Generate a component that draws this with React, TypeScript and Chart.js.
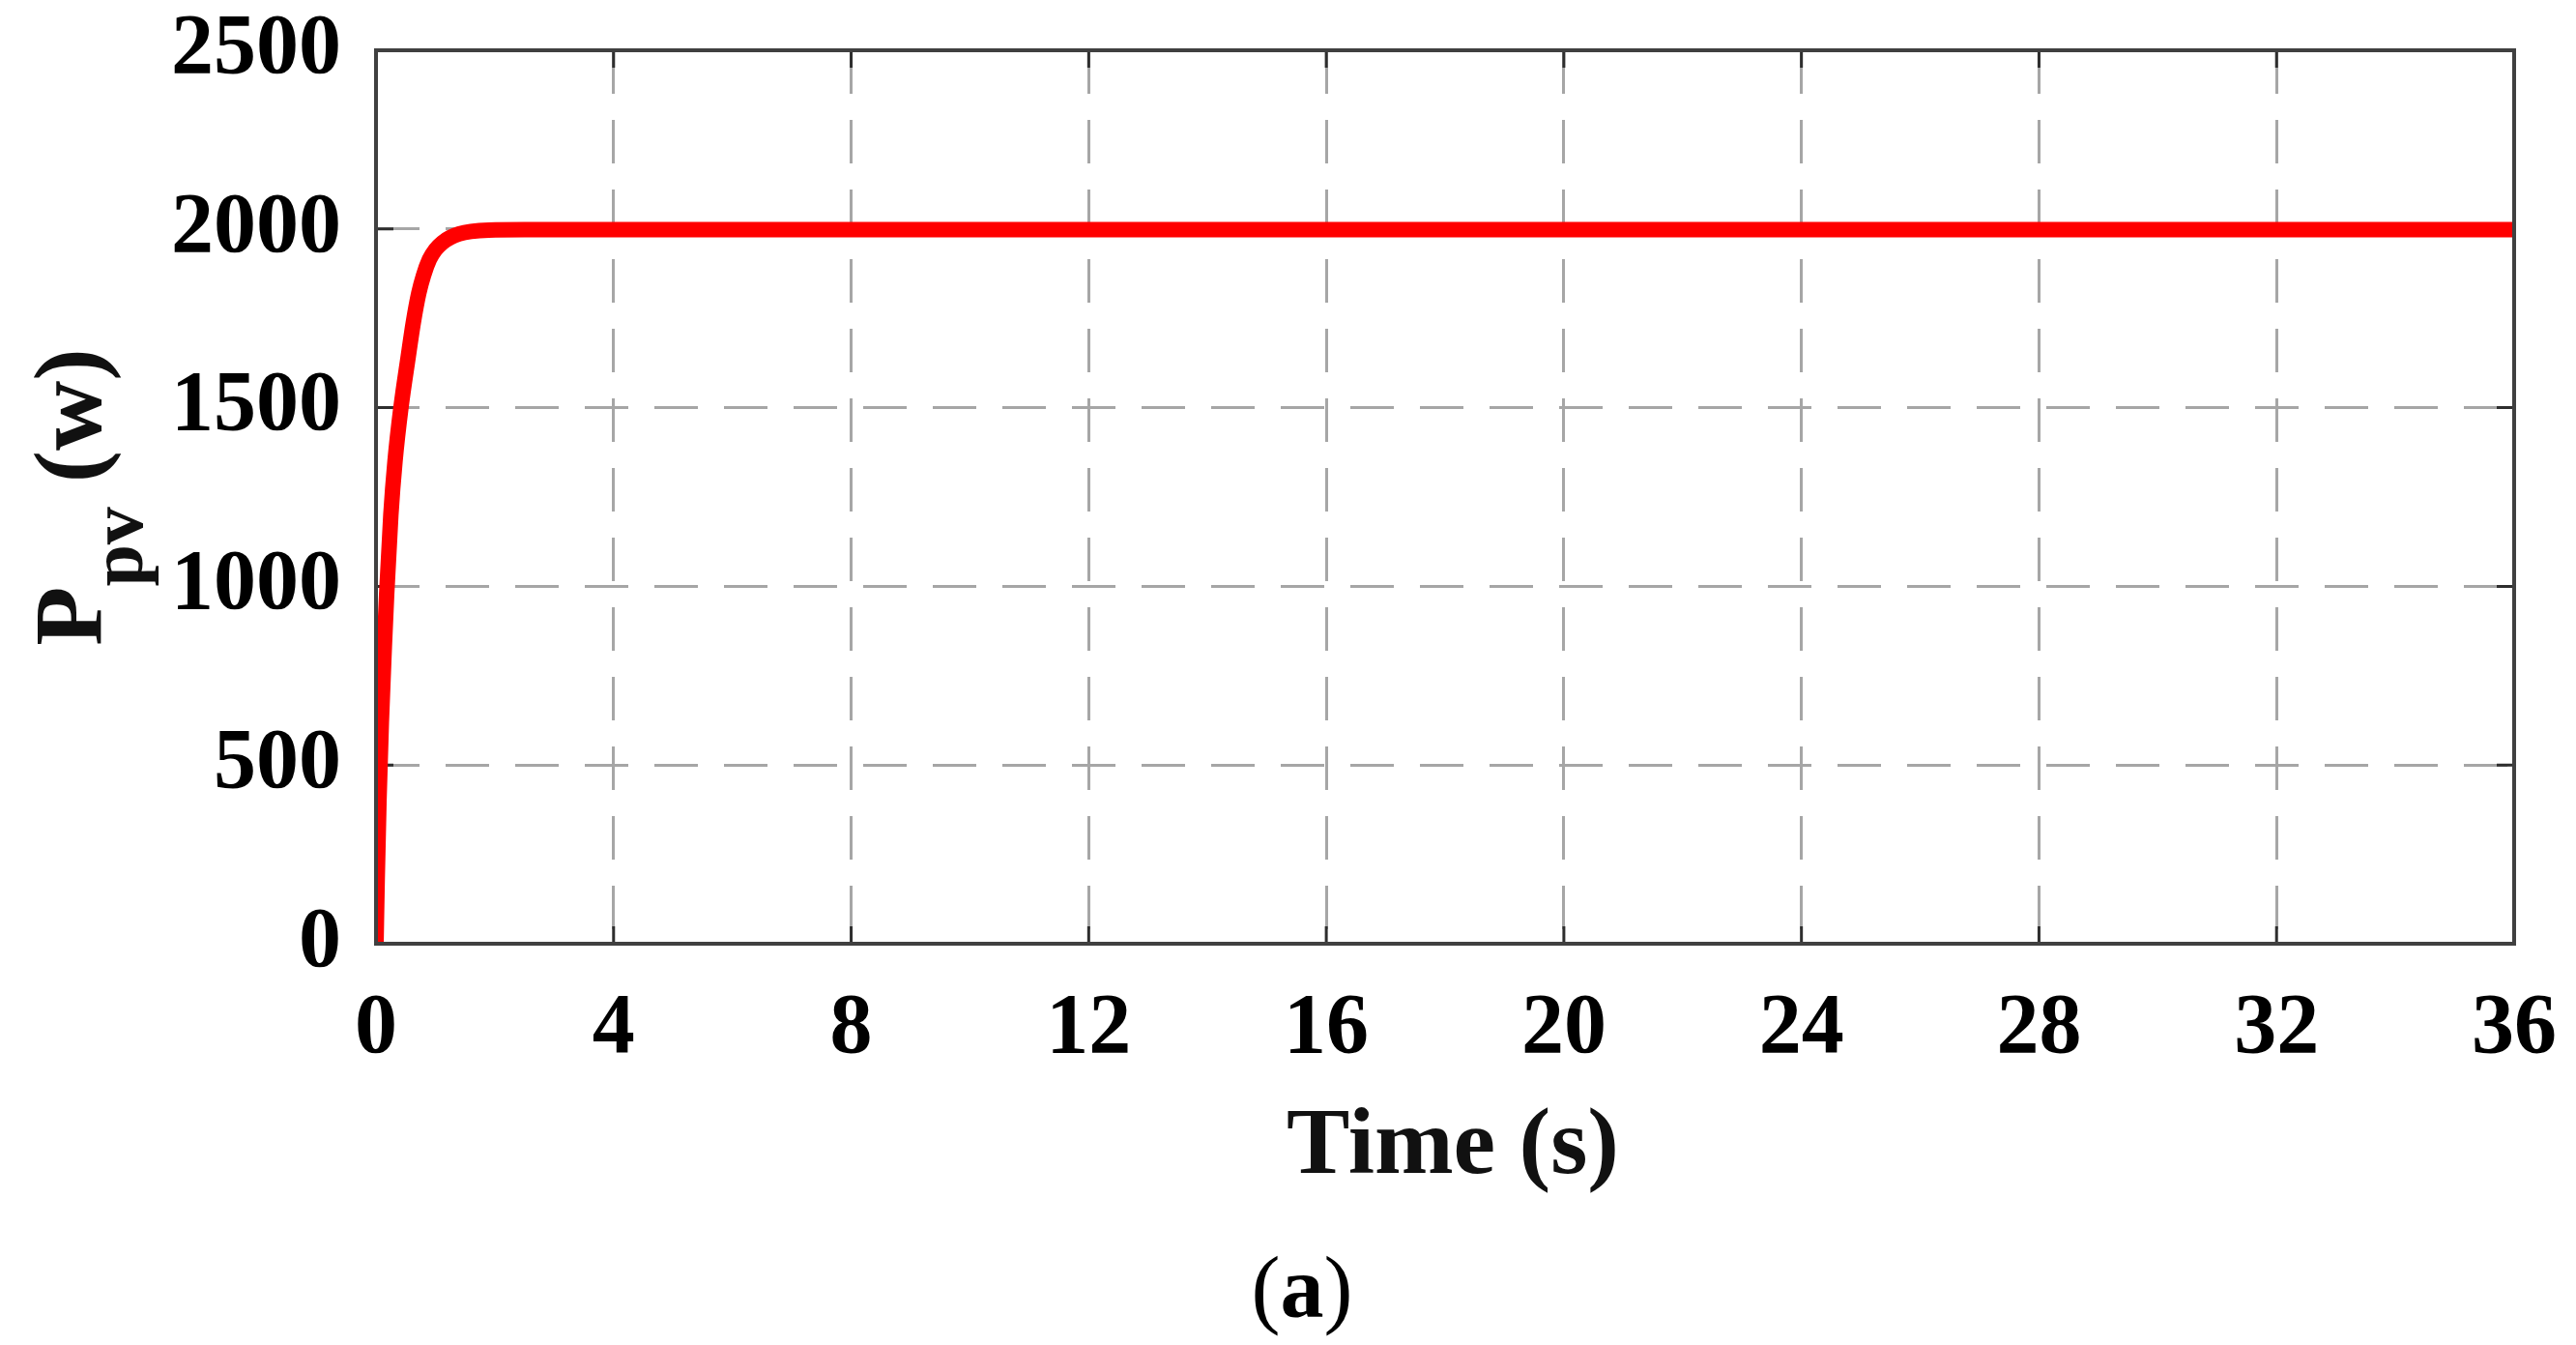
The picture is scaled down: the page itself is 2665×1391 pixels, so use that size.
import React, { useEffect, useRef } from "react";
import { Chart, registerables } from "chart.js";

Chart.register(...registerables);

// ---- data ----
const timeS = [0, 0.02, 0.05, 0.09, 0.14, 0.18, 0.25, 0.32, 0.42, 0.54, 0.63, 0.72, 0.8, 0.9, 1.0, 1.12, 1.25, 1.4, 1.6, 1.9, 2.5, 36];
const powerW = [0, 180, 400, 620, 830, 980, 1200, 1350, 1500, 1640, 1740, 1820, 1870, 1915, 1942, 1962, 1976, 1986, 1993, 1997, 1998, 1998];
const xTickValues = [0, 4, 8, 12, 16, 20, 24, 28, 32, 36];
const yTickValues = [0, 500, 1000, 1500, 2000, 2500];
const xTitleText = "Time (s)";
const yTitleMain = "P";
const yTitleSub = "pv";
const yTitleUnit = " (w)";
const captionLetter = "a";

const W = 2665;
const H = 1391;
const SERIF = '"Liberation Serif", "Times New Roman", Times, serif';

const framePlugin = {
  id: "matlabFrame",
  beforeDatasetsDraw(chart: any) {
    const { ctx, chartArea, scales } = chart;
    const { left, right, top, bottom } = chartArea;
    const tl = 18;
    ctx.save();
    ctx.setLineDash([]);
    ctx.strokeStyle = "#2e2e2e";
    ctx.lineWidth = 3;
    ctx.beginPath();
    xTickValues.forEach((v) => {
      const px = scales.x.getPixelForValue(v);
      ctx.moveTo(px, bottom);
      ctx.lineTo(px, bottom - tl);
      ctx.moveTo(px, top);
      ctx.lineTo(px, top + tl);
    });
    yTickValues.forEach((v) => {
      const py = scales.y.getPixelForValue(v);
      ctx.moveTo(left, py);
      ctx.lineTo(left + tl, py);
      ctx.moveTo(right, py);
      ctx.lineTo(right - tl, py);
    });
    ctx.stroke();
    ctx.restore();
  },
  afterDatasetsDraw(chart: any) {
    const { ctx, chartArea } = chart;
    const { left, right, top, bottom } = chartArea;
    ctx.save();
    ctx.setLineDash([]);
    ctx.strokeStyle = "#404040";
    ctx.lineWidth = 4;
    ctx.strokeRect(left, top, right - left, bottom - top);
    ctx.restore();
  },
  afterDraw(chart: any) {
    const { ctx, chartArea } = chart;
    const { left, right, top, bottom } = chartArea;
    ctx.save();
    ctx.fillStyle = "#111";
    // x title
    ctx.font = `bold 98px ${SERIF}`;
    ctx.textAlign = "center";
    ctx.textBaseline = "alphabetic";
    ctx.fillText(xTitleText, (left + right) / 2 + 8, bottom + 237);

    // y title with subscript, rotated
    const mainFont = `bold 100px ${SERIF}`;
    const subFont = `bold 78px ${SERIF}`;
    ctx.font = mainFont;
    const wP = ctx.measureText(yTitleMain).width;
    const wU = ctx.measureText(yTitleUnit).width;
    ctx.font = subFont;
    const wS = ctx.measureText(yTitleSub).width;
    const total = wP + wS + wU;
    const cy = (top + bottom) / 2;
    ctx.translate(left - 285, cy);
    ctx.rotate(-Math.PI / 2);
    ctx.textAlign = "left";
    let x0 = -total / 2;
    ctx.font = mainFont;
    ctx.fillText(yTitleMain, x0, 0);
    x0 += wP;
    ctx.font = subFont;
    ctx.fillText(yTitleSub, x0, 43);
    x0 += wS;
    ctx.font = mainFont;
    ctx.fillText(yTitleUnit, x0, 0);
    ctx.restore();

    // caption "(a)"
    ctx.save();
    ctx.fillStyle = "#000";
    ctx.textBaseline = "alphabetic";
    ctx.textAlign = "left";
    const regF = `90px ${SERIF}`;
    const boldF = `bold 90px ${SERIF}`;
    ctx.font = regF;
    const wl = ctx.measureText("(").width;
    const wr = ctx.measureText(")").width;
    ctx.font = boldF;
    const wa = ctx.measureText(captionLetter).width;
    let cx = 1347 - (wl + wa + wr) / 2;
    const by = 1362;
    ctx.font = regF;
    ctx.fillText("(", cx, by);
    cx += wl;
    ctx.font = boldF;
    ctx.fillText(captionLetter, cx, by);
    cx += wa;
    ctx.font = regF;
    ctx.fillText(")", cx, by);
    ctx.restore();
  },
};

export default function App() {
  const canvasRef = useRef<HTMLCanvasElement | null>(null);

  useEffect(() => {
    const canvas = canvasRef.current;
    if (!canvas) return;
    const points = timeS.map((t, i) => ({ x: t, y: powerW[i] }));
    const tickFont = { family: SERIF, size: 88, weight: "bold" as const, lineHeight: 1 };
    const chart = new Chart(canvas, {
      type: "line",
      data: {
        datasets: [
          {
            data: points,
            borderColor: "#ff0000",
            borderWidth: 16,
            pointRadius: 0,
            fill: false,
            cubicInterpolationMode: "monotone",
            borderCapStyle: "butt",
            borderJoinStyle: "round",
          },
        ],
      },
      options: {
        animation: false,
        responsive: false,
        devicePixelRatio: 1,
        events: [],
        layout: { padding: { top: 52, right: 64, left: 0, bottom: 0 } },
        plugins: {
          legend: { display: false },
          tooltip: { enabled: false },
          title: { display: false },
        },
        scales: {
          x: {
            type: "linear",
            min: 0,
            max: 36,
            afterBuildTicks: (s: any) => {
              s.ticks = xTickValues.map((v) => ({ value: v }));
            },
            afterFit: (s: any) => {
              s.height = H - 976;
              s.paddingLeft = 0;
              s.paddingRight = 0;
              s.paddingTop = 0;
              s.paddingBottom = 0;
            },
            grid: {
              color: "#a6a6a6",
              lineWidth: 3,
              drawTicks: false,
            },
            border: { display: false, dash: [45, 27] },
            ticks: {
              color: "#000",
              font: tickFont,
              padding: 45,
              maxRotation: 0,
              autoSkip: false,
              callback: (v: any) => String(v),
            },
          },
          y: {
            type: "linear",
            min: 0,
            max: 2500,
            afterBuildTicks: (s: any) => {
              s.ticks = yTickValues.map((v) => ({ value: v }));
            },
            afterFit: (s: any) => {
              s.width = 389;
              s.paddingLeft = 0;
              s.paddingRight = 0;
              s.paddingTop = 0;
              s.paddingBottom = 0;
            },
            grid: {
              color: "#a6a6a6",
              lineWidth: 3,
              drawTicks: false,
            },
            border: { display: false, dash: [45, 27] },
            ticks: {
              color: "#000",
              font: tickFont,
              padding: 36,
              autoSkip: false,
              callback: (v: any) => String(v),
            },
          },
        },
      },
      plugins: [framePlugin],
    });
    return () => {
      chart.destroy();
    };
  }, []);

  return (
    <div style={{ position: "fixed", left: 0, top: 0, width: W, height: H, background: "#fff" }}>
      <canvas ref={canvasRef} width={W} height={H} style={{ width: W, height: H, display: "block" }} />
    </div>
  );
}
